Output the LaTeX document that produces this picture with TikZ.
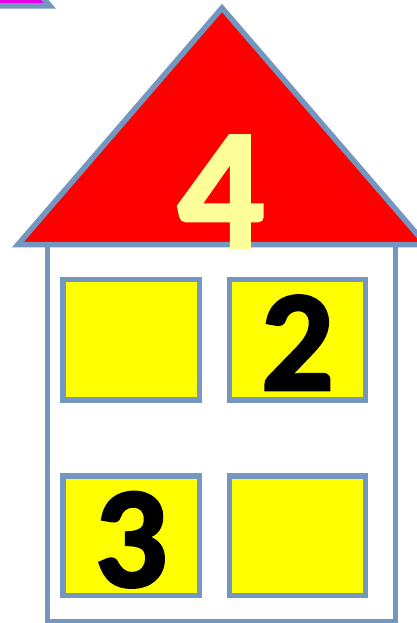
\documentclass[tikz,border=0pt]{standalone}
\usepackage{fontspec}
\newfontfamily\digitfont{Carlito}[UprightFont={* Bold}, FakeBold=2]
\definecolor{edgeblue}{RGB}{116,151,192}
\definecolor{roofred}{RGB}{255,0,0}
\definecolor{winyellow}{RGB}{255,255,0}
\definecolor{paleyellow}{RGB}{255,255,153}
\definecolor{magentaroof}{RGB}{230,0,230}
\tikzset{
  outline/.style={draw=edgeblue, line width=5.5pt, line join=miter},
  windowbox/.style={outline, fill=winyellow},
  bigdigit/.style={inner sep=0pt, anchor=base, font=\digitfont\fontsize{172}{172}\selectfont},
  smalldigit/.style={inner sep=0pt, anchor=base, text=black, font=\digitfont\fontsize{144}{144}\selectfont}
}
\begin{document}
\begin{tikzpicture}[x=1pt,y=-1pt]
\useasboundingbox (0,0) rectangle (417,623);
\begin{scope}
\clip (0,0) rectangle (417,623);
% partial neighbouring roof (top-left)
\path[outline, fill=magentaroof] (50,6) -- (-154,-230.5) -- (-358,6) -- cycle;
% house body
\path[outline, fill=white] (47.5,240) rectangle (395.5,621.5);
% roof
\path[outline, fill=roofred] (18,244.5) -- (222,8) -- (426,244.5) -- cycle;
% windows
\path[windowbox] (63,279.5) rectangle (199.5,400);
\path[windowbox] (229.5,279.5) rectangle (365.5,400);
\path[windowbox] (63,476) rectangle (199.5,595.5);
\path[windowbox] (229.5,476) rectangle (365.5,595.5);
\end{scope}
% numbers
\node[bigdigit, text=paleyellow] (four) at (221,247.5) {4};
\node[smalldigit] (two) at (297.5,390) {2};
\node[smalldigit] (three) at (131,586.5) {3};
\end{tikzpicture}
\end{document}
